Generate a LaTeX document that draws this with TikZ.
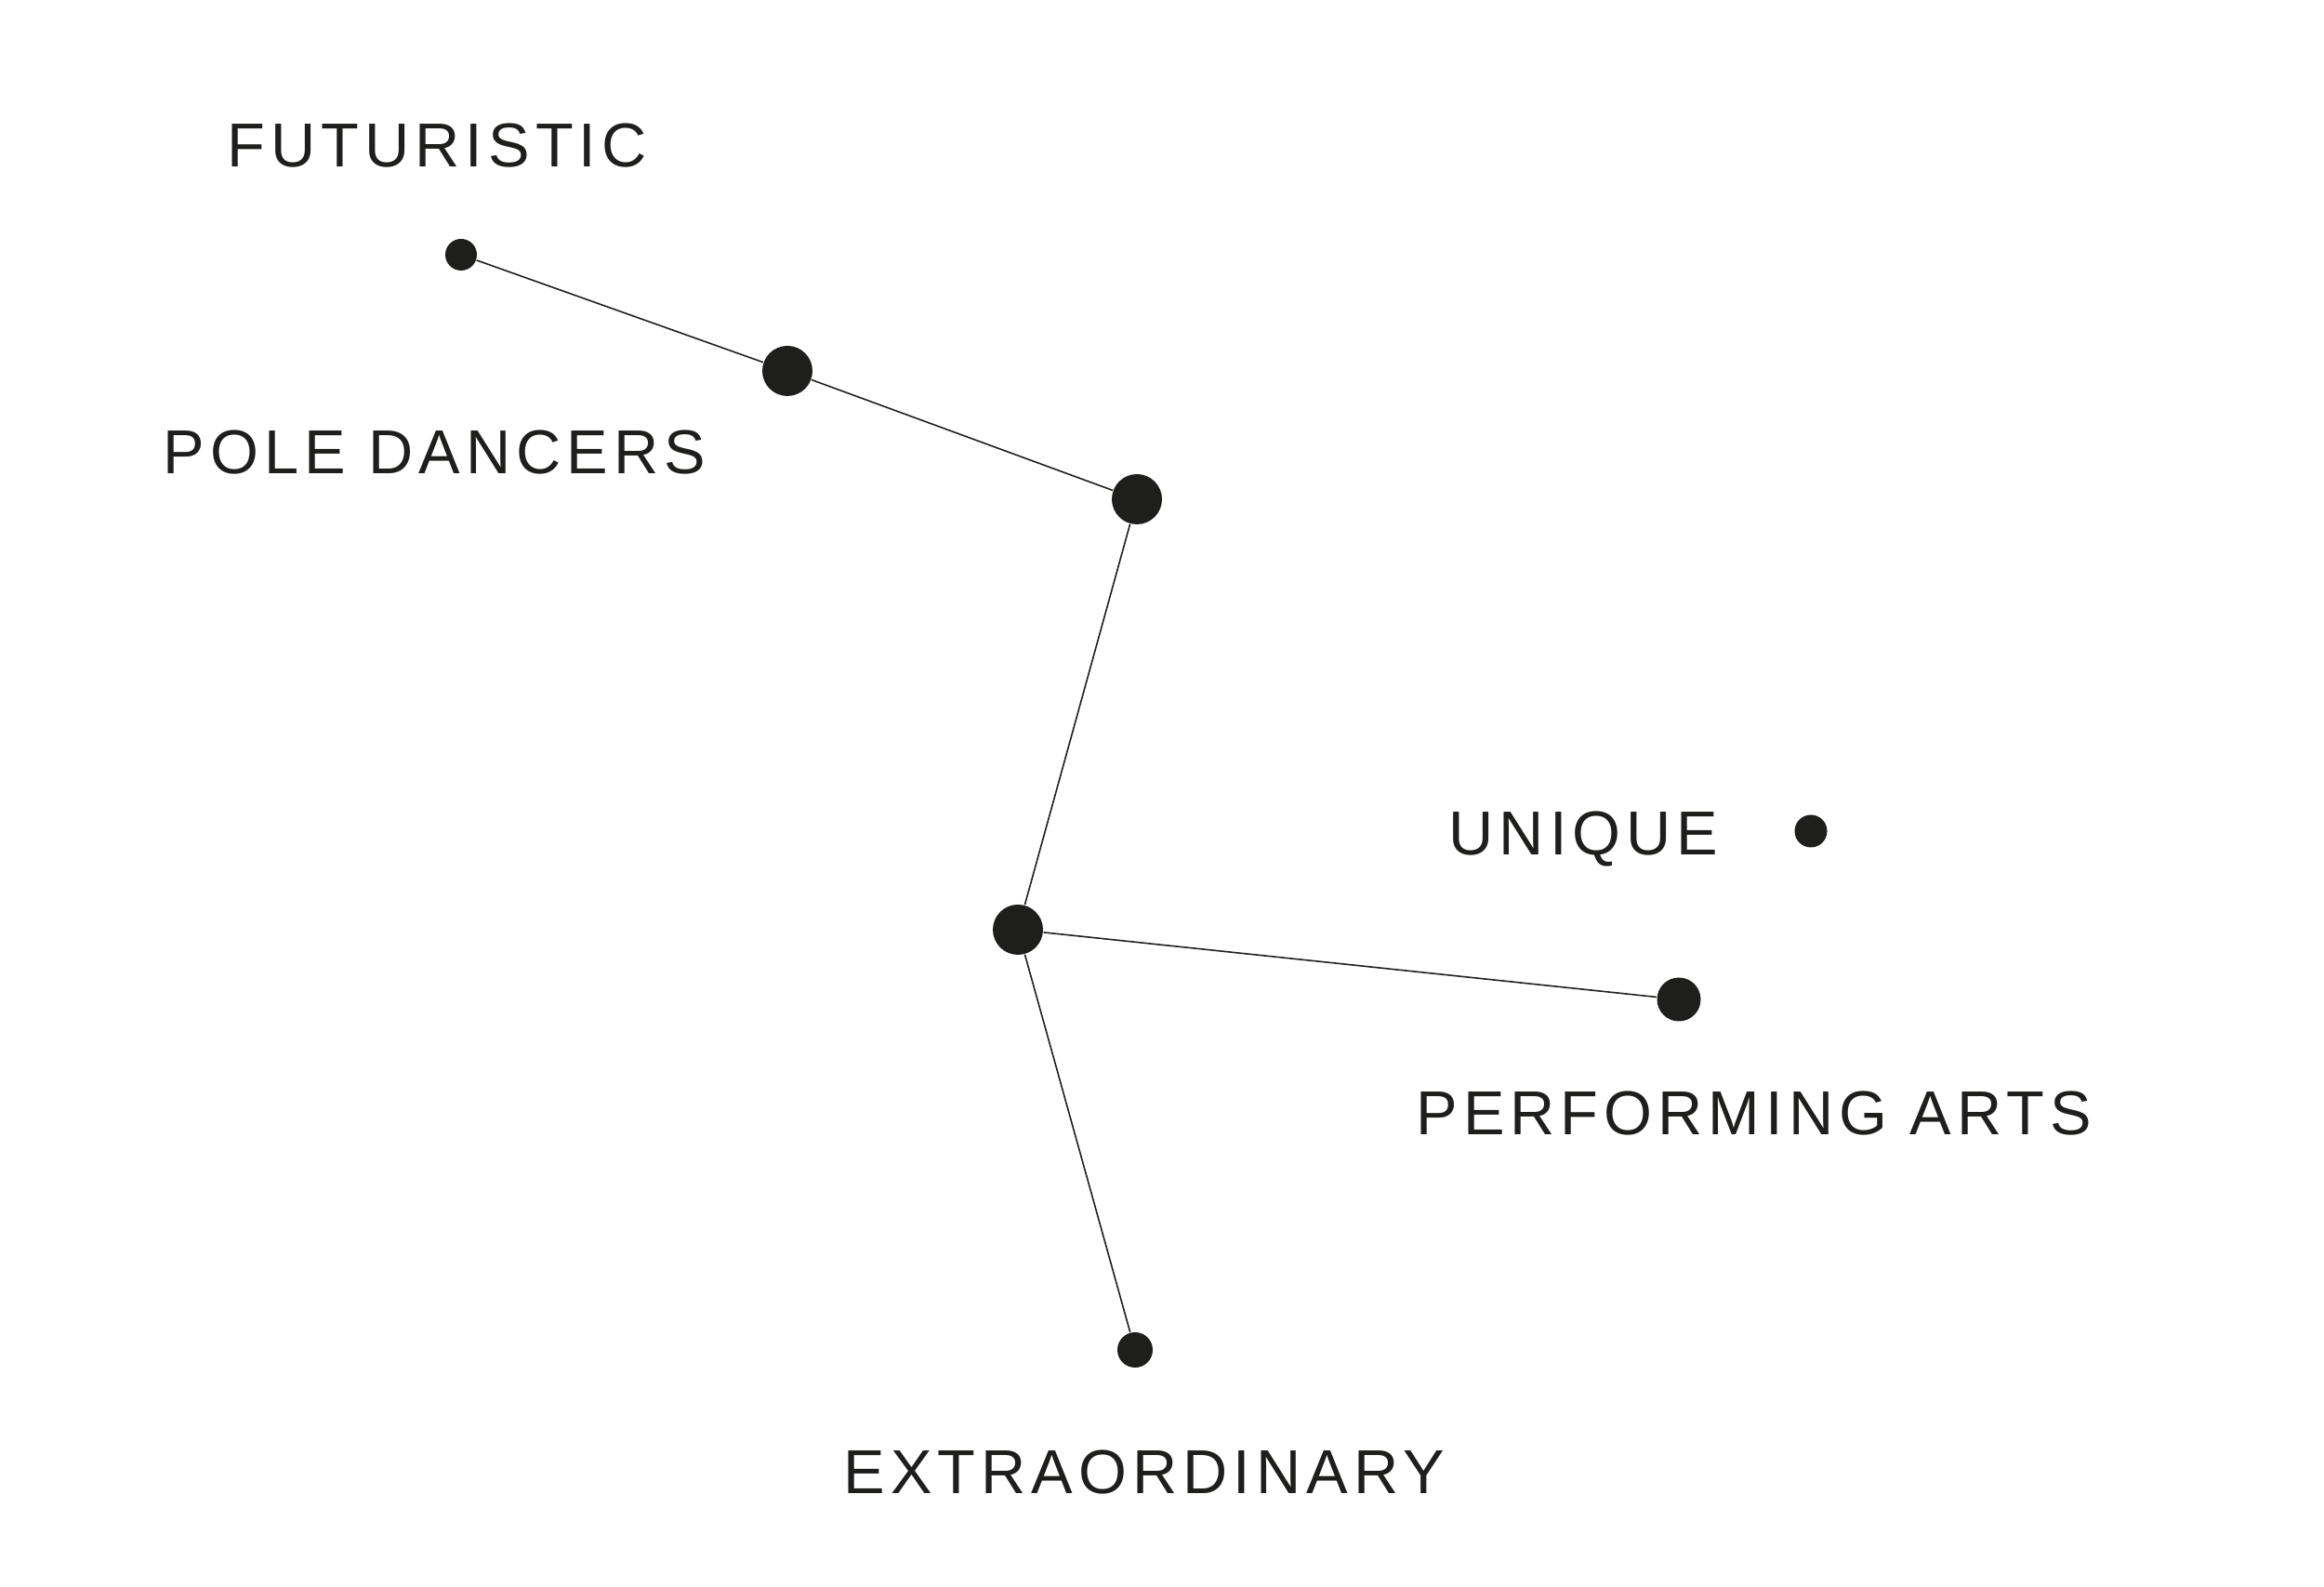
\documentclass[tikz,border=0pt]{standalone}
\usepackage{fontspec}
\setmainfont{Liberation Sans}
\newfontfamily\wordfont[LetterSpace=9]{Liberation Sans}
\definecolor{ink}{HTML}{1E1E1C}

\begin{document}
\begin{tikzpicture}[x=1cm,y=1cm,
 word/.style={font=\wordfont\fontsize{19}{22}\selectfont,text=ink,anchor=base west,inner sep=0pt},
 spot/.style={circle,fill=ink,inner sep=0pt,minimum size=#1},
 link/.style={draw=ink,line width=.45pt}]
\path[use as bounding box] (0,0) rectangle (25,17.07);
% stars
\node[spot=.34cm] (fut) at (4.96,14.33) {};
\node[spot=.54cm] (pole) at (8.47,13.08) {};
\node[spot=.54cm] (top) at (12.23,11.70) {};
\node[spot=.54cm] (mid) at (10.95,7.07) {};
\node[spot=.47cm] (arts) at (18.06,6.32) {};
\node[spot=.35cm] (uniq) at (19.48,8.13) {};
\node[spot=.38cm] (extra) at (12.21,2.55) {};
% links
\draw[link] (fut)--(pole)--(top)--(mid)--(arts);
\draw[link] (mid)--(extra);
% words
\node[word] (futw) at (2.44,15.27) {FUTURISTIC};
\node[word] (polew) at (1.75,11.97) {POLE DANCERS};
\node[word] (uniqw) at (15.58,7.87) {UNIQUE};
\node[word] (artsw) at (15.23,4.86) {PERFORMING ARTS};
\node[word] (extraw) at (9.07,1.00) {EXTRAORDINARY};
\end{tikzpicture}
\end{document}
